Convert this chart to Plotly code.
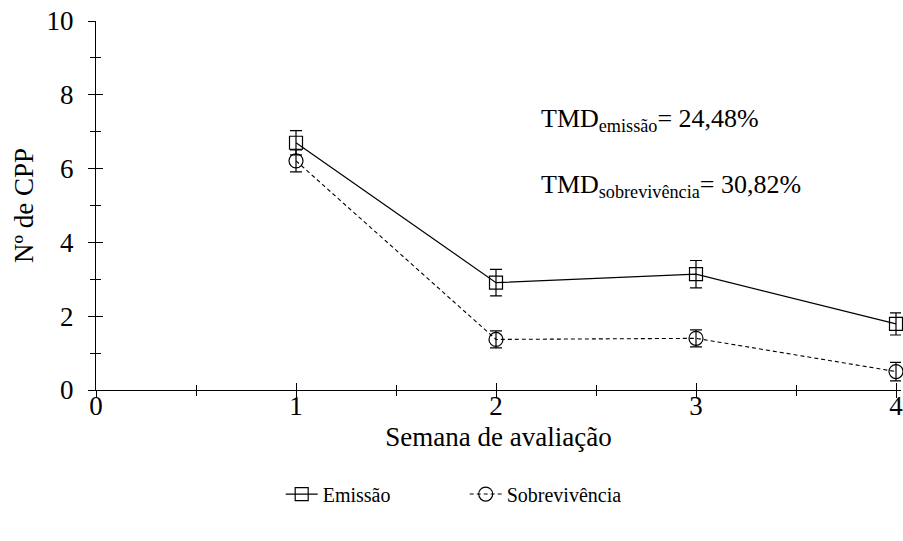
import plotly.graph_objects as go

# Weekly counts of CPP (mean ± error) for each evaluation
semanas = [1, 2, 3, 4]
emissao = [6.70, 2.91, 3.14, 1.79]
emissao_erro = [0.33, 0.36, 0.37, 0.30]
sobrevivencia = [6.21, 1.37, 1.40, 0.50]
sobrevivencia_erro = [0.30, 0.23, 0.23, 0.25]

x_ticks = [0, 1, 2, 3, 4]
y_ticks = [0, 2, 4, 6, 8, 10]

FONT = "Liberation Serif"
FS = 27
FS_LEG = 20

fig = go.Figure()

fig.add_trace(go.Scatter(
    x=semanas, y=emissao, name="Emissão", mode="lines+markers",
    line=dict(color="black", width=1.2),
    marker=dict(symbol="square-open", size=13, color="black", line=dict(width=1.2)),
    error_y=dict(type="data", array=emissao_erro, color="black", thickness=1.2, width=6),
    cliponaxis=False,
))
fig.add_trace(go.Scatter(
    x=semanas, y=sobrevivencia, name="Sobrevivência", mode="lines+markers",
    line=dict(color="black", width=1.1, dash="4px,3px"),
    marker=dict(symbol="circle-open", size=14, color="black", line=dict(width=1.2)),
    error_y=dict(type="data", array=sobrevivencia_erro, color="black", thickness=1.2, width=6),
    cliponaxis=False,
))

x_range = [0, 4.025]
y_range = [0, 10]

fig.update_layout(
    width=903, height=541,
    margin=dict(l=96, r=0, t=21, b=151),
    paper_bgcolor="white", plot_bgcolor="white",
    font=dict(family=FONT, size=FS, color="black"),
    showlegend=True,
    legend=dict(orientation="h", x=0.458, xanchor="center", y=-0.282, yanchor="middle",
                font=dict(family=FONT, size=FS_LEG), itemwidth=32,
                entrywidth=137, bgcolor="rgba(0,0,0,0)"),
    xaxis=dict(
        range=x_range, tickvals=x_ticks, showgrid=False, zeroline=False,
        showline=True, linecolor="black", linewidth=1.2,
        ticks="inside", ticklen=7, tickwidth=1.2, tickcolor="black",
        ticklabeloverflow="allow", ticklabelstandoff=-9,
        minor=dict(dtick=0.5, tick0=0, ticks="inside", ticklen=5, tickwidth=1.2, tickcolor="black"),
        title=dict(text="Semana de avaliação", standoff=7, font=dict(family=FONT, size=FS)),
        tickfont=dict(family=FONT, size=FS),
    ),
    yaxis=dict(
        range=y_range, tickvals=y_ticks, showgrid=False, zeroline=False,
        showline=True, linecolor="black", linewidth=1.2,
        ticks="outside", ticklen=7, tickwidth=1.2, tickcolor="black",
        ticklabelstandoff=9,
        minor=dict(dtick=1, tick0=0, ticks="outside", ticklen=5, tickwidth=1.2, tickcolor="black"),
        title=dict(text="Nº de CPP", standoff=5, font=dict(family=FONT, size=FS)),
        tickfont=dict(family=FONT, size=FS),
    ),
    # companion axes carrying the other half of each tick mark
    xaxis2=dict(
        range=x_range, overlaying="x", anchor="y", side="bottom", tickvals=x_ticks,
        showgrid=False, zeroline=False, showline=False, showticklabels=False,
        ticks="outside", ticklen=7, tickwidth=1.2, tickcolor="black",
        minor=dict(dtick=0.5, tick0=0, ticks="outside", ticklen=5, tickwidth=1.2, tickcolor="black"),
    ),
    yaxis2=dict(
        range=y_range, overlaying="y", anchor="x", side="left", tickvals=y_ticks,
        showgrid=False, zeroline=False, showline=False, showticklabels=False,
        ticks="inside", ticklen=7, tickwidth=1.2, tickcolor="black",
        minor=dict(dtick=1, tick0=0, ticks="inside", ticklen=5, tickwidth=1.2, tickcolor="black"),
    ),
)

# invisible trace to activate the companion tick axes
fig.add_trace(go.Scatter(x=[None], y=[None], xaxis="x2", yaxis="y2",
                         showlegend=False, hoverinfo="skip"))

fig.add_annotation(x=2.215, y=7.32, xref="x", yref="y", xanchor="left", yanchor="middle",
                   text="TMD<sub>emissão</sub>= 24,48%", showarrow=False,
                   font=dict(family=FONT, size=FS - 1))
fig.add_annotation(x=2.215, y=5.53, xref="x", yref="y", xanchor="left", yanchor="middle",
                   text="TMD<sub>sobrevivência</sub>= 30,82%", showarrow=False,
                   font=dict(family=FONT, size=FS - 1))

fig.write_html("out.html")
